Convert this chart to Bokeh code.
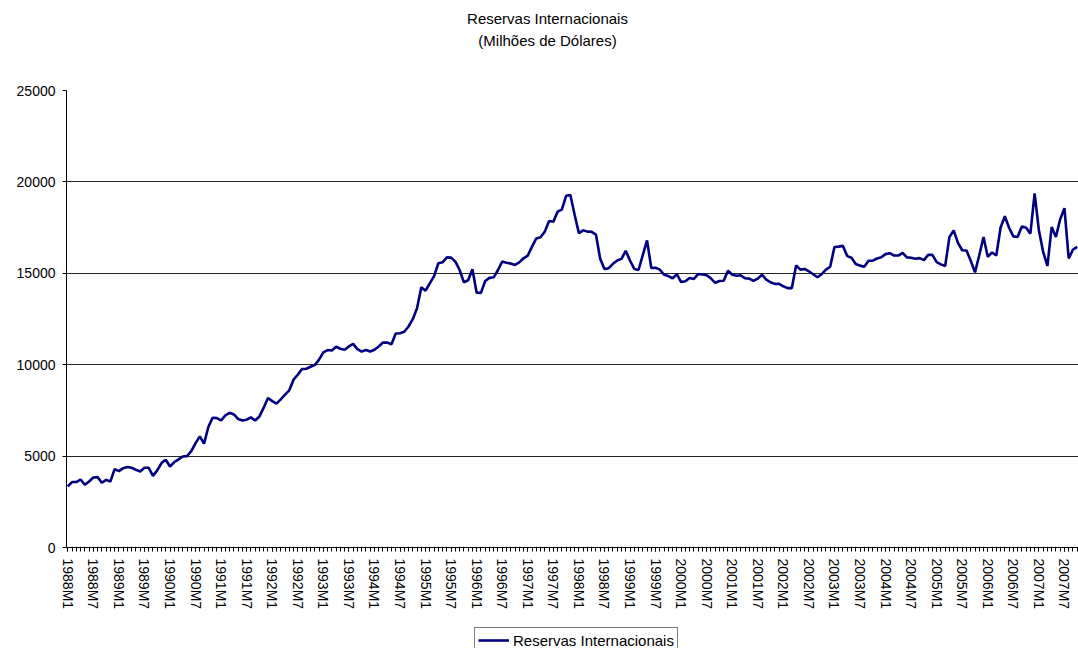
from bokeh.plotting import figure
from bokeh.layouts import column
from bokeh.models import FixedTicker, Legend, LegendItem, Range1d
from bokeh.core.properties import value
from bokeh.embed import file_html
from bokeh.resources import INLINE

# Monthly periods 1988M1 .. 2007M10
months = [f"{y}M{m}" for y in range(1988, 2008) for m in range(1, 13)][:238]

# Reservas Internacionais (Milhões de Dólares)
reserves = [
    3340, 3580, 3580, 3720, 3430, 3610, 3830, 3850, 3540, 3700, 3610, 4290,   # 1988
    4180, 4340, 4400, 4360, 4250, 4160, 4360, 4360, 3920, 4220, 4620, 4800,   # 1989
    4430, 4670, 4820, 4980, 5000, 5270, 5710, 6080, 5680, 6590, 7100, 7080,   # 1990
    6950, 7230, 7370, 7280, 7030, 6950, 6990, 7120, 6950, 7170, 7650, 8180,   # 1991
    8010, 7870, 8100, 8360, 8600, 9180, 9450, 9760, 9780, 9890, 9980, 10280,  # 1992
    10670, 10800, 10780, 10980, 10870, 10820, 11000, 11140, 10850, 10720, 10800, 10720,  # 1993
    10820, 11000, 11210, 11210, 11120, 11710, 11720, 11800, 12090, 12490, 13090, 14240,  # 1994
    14050, 14450, 14850, 15550, 15600, 15870, 15860, 15640, 15180, 14510, 14620, 15220,  # 1995
    13940, 13930, 14580, 14750, 14780, 15180, 15640, 15580, 15530, 15460, 15600, 15820,  # 1996
    15970, 16460, 16910, 16970, 17280, 17860, 17820, 18370, 18480, 19240, 19280, 18200,  # 1997
    17200, 17350, 17280, 17270, 17120, 15800, 15230, 15280, 15520, 15700, 15790, 16230,  # 1998
    15700, 15240, 15180, 16000, 16800, 15290, 15300, 15200, 14920, 14850, 14730, 14950,  # 1999
    14520, 14560, 14740, 14690, 14960, 14930, 14890, 14720, 14480, 14580, 14590, 15140,  # 2000
    14920, 14870, 14890, 14730, 14710, 14580, 14710, 14920, 14650, 14510, 14420, 14420,  # 2001
    14290, 14190, 14190, 15430, 15200, 15240, 15110, 14950, 14780, 14950, 15200, 15360,  # 2002
    16440, 16460, 16500, 15940, 15850, 15510, 15420, 15360, 15690, 15690, 15810, 15880,  # 2003
    16050, 16100, 15970, 15970, 16120, 15870, 15850, 15800, 15830, 15720, 16010, 16010,  # 2004
    15610, 15490, 15400, 16990, 17350, 16660, 16260, 16250, 15690, 15050, 15990, 16990,  # 2005
    15900, 16140, 15970, 17490, 18120, 17490, 17020, 16990, 17560, 17490, 17170, 19370,  # 2006
    17350, 16170, 15400, 17530, 16990, 17960, 18560, 15810, 16300, 16440,              # 2007
]

y_ticks = [0, 5000, 10000, 15000, 20000, 25000]
series_name = "Reservas Internacionais"
title_lines = ["Reservas Internacionais", "(Milhões de Dólares)"]

x = list(range(len(reserves)))
FONT = "Liberation Sans"
NAVY = "#000080"
LEFT = 66  # inner left border shared by the stacked figures

# ---- title strip (pixel-like coordinates, y pointing down)
t = figure(width=1078, height=80, output_backend="svg", toolbar_location=None,
           x_range=Range1d(LEFT, 1078), y_range=Range1d(80, 0),
           min_border_left=LEFT, min_border_right=0, min_border_top=0, min_border_bottom=0,
           x_axis_type=None, y_axis_type=None)
t.outline_line_color = None
t.grid.visible = False
t.text(x=[547, 547], y=[18, 40], text=title_lines, text_font=value(FONT),
       text_font_size="15px", text_align="center", text_baseline="middle", text_color="black")

# ---- main chart
p = figure(width=1078, height=547, output_backend="svg", toolbar_location=None,
           x_range=Range1d(-0.3, len(reserves) - 0.7), y_range=Range1d(0, 25000),
           min_border_left=LEFT, min_border_right=0, min_border_top=10, min_border_bottom=80)

r = p.line(x, reserves, line_color=NAVY, line_width=2.6)

p.outline_line_color = None
p.background_fill_color = "white"
p.border_fill_color = "white"

p.xgrid.grid_line_color = None
p.ygrid.ticker = FixedTicker(ticks=y_ticks)
p.ygrid.grid_line_color = "black"
p.ygrid.grid_line_width = 1
p.ygrid.grid_line_alpha = 0.85

yax = p.yaxis[0]
yax.ticker = FixedTicker(ticks=y_ticks)
yax.major_tick_out = 4
yax.major_tick_in = 0
yax.minor_tick_out = 0
yax.minor_tick_in = 0
yax.major_label_standoff = 7
yax.major_label_text_font = FONT
yax.major_label_text_font_size = "14px"
yax.major_label_text_color = "black"
yax.axis_line_color = "black"
yax.major_tick_line_color = "black"

xax = p.xaxis[0]
major = list(range(0, len(reserves), 6))
xax.ticker = FixedTicker(ticks=major, minor_ticks=x)
xax.major_label_overrides = {i: months[i] for i in major}
xax.major_label_orientation = "vertical"
xax.major_tick_out = 4
xax.major_tick_in = 0
xax.minor_tick_out = 4
xax.minor_tick_in = 0
xax.major_label_standoff = 7
xax.major_label_text_font = FONT
xax.major_label_text_font_size = "14px"
xax.major_label_text_color = "black"
xax.axis_line_color = "black"
xax.major_tick_line_color = "black"
xax.minor_tick_line_color = "black"

# ---- legend strip (its frame starts at x = 474 on the page)
q = figure(width=209 + LEFT, height=21, output_backend="svg", toolbar_location=None,
           x_range=Range1d(0, 1), y_range=Range1d(0, 1),
           min_border_left=LEFT, min_border_right=0, min_border_top=0, min_border_bottom=0,
           x_axis_type=None, y_axis_type=None, margin=(0, 0, 0, 474 - LEFT))
q.outline_line_color = None
q.grid.visible = False
rq = q.line([5, 6], [5, 6], line_color=NAVY, line_width=2.6)
legend = Legend(items=[LegendItem(label=series_name, renderers=[rq])],
                location="top_left", orientation="horizontal",
                label_text_font=FONT, label_text_font_size="15px", label_text_color="black",
                glyph_width=31, glyph_height=16, label_standoff=4, padding=3, margin=0,
                spacing=0, label_height=18,
                border_line_color="black", border_line_width=1,
                background_fill_color="white", background_fill_alpha=1.0)
q.add_layout(legend, "center")

layout = column(t, p, q, spacing=0)

open("out.html", "w").write(file_html(layout, INLINE))
